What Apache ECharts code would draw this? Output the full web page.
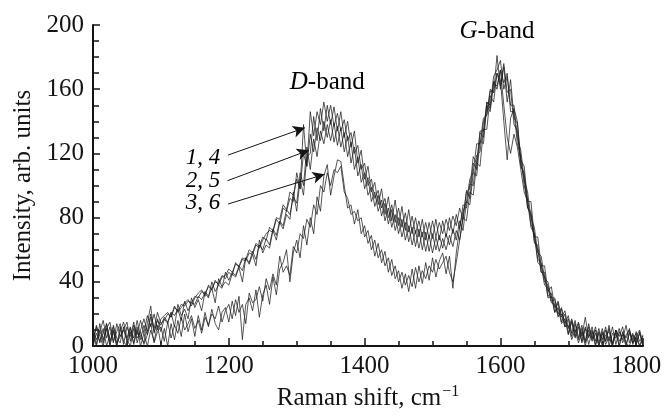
<!DOCTYPE html>
<html>
<head>
<meta charset="utf-8">
<script src="https://cdn.jsdelivr.net/npm/echarts@6/dist/echarts.min.js"></script>
<style>html,body{margin:0;padding:0;background:#fff}#c{width:671px;height:416px}</style>
</head>
<body>
<div id="c"></div>
<script>
// Raman shift grid (cm^-1)
var xs = [1000,1005,1010,1015,1020,1025,1030,1035,1040,1045,1050,1055,1060,1065,1070,1075,1080,1085,1090,1095,
1100,1105,1110,1115,1120,1125,1130,1135,1140,1145,1150,1155,1160,1165,1170,1175,1180,1185,1190,1195,
1200,1205,1210,1215,1220,1225,1230,1235,1240,1245,1250,1255,1260,1265,1270,1275,1280,1285,1290,1295,
1300,1305,1310,1315,1320,1325,1330,1335,1340,1345,1350,1355,1360,1365,1370,1375,1380,1385,1390,1395,
1400,1405,1410,1415,1420,1425,1430,1435,1440,1445,1450,1455,1460,1465,1470,1475,1480,1485,1490,1495,
1500,1505,1510,1515,1520,1525,1530,1535,1540,1545,1550,1555,1560,1565,1570,1575,1580,1585,1590,1595,
1600,1605,1610,1615,1620,1625,1630,1635,1640,1645,1650,1655,1660,1665,1670,1675,1680,1685,1690,1695,
1700,1705,1710,1715,1720,1725,1730,1735,1740,1745,1750,1755,1760,1765,1770,1775,1780,1785,1790,1795,
1800,1805,1810];

// intensities (arb. units), spectra 1..6
var s1 = [10,1,14,4,11,0,13,5,2,12, 3,11,5,16,6,2,14,25,8,17,
9,17,14,21,12,26,19,23,17,30, 24,29,22,34,31,36,27,42,37,40,
38,45,43,49,40,55,51,57,50,66, 58,63,61,72,66,77,73,82,79,96,
84,104,94,118,120,143,128,148,134,150, 138,149,134,146,130,140,124,134,114,122,
104,112,96,102,88,98,82,93,78,91, 75,87,72,85,70,80,68,79,66,77,
67,79,66,78,68,80,70,82,73,88, 86,101,100,119,121,140,144,159,158,181,
160,174,152,166,142,139,116,112,90,90, 68,68,50,50,34,37,24,28,18,22,
11,17,9,15,6,18,5,12,3,11, 2,10,3,12,1,9,4,13,2,8,
1,9,0];
var s2 = [3,12,2,8,14,3,10,0,9,15, 5,12,1,10,4,13,7,18,9,16,
13,18,15,21,19,23,16,28,22,27, 26,31,29,33,30,40,34,38,36,46,
41,46,44,50,47,55,52,59,54,63, 60,67,63,73,69,78,75,85,82,93,
89,108,100,124,110,129,118,134,126,138, 128,139,125,136,121,131,114,124,106,113,
98,105,90,96,84,91,78,86,74,82, 70,79,66,75,63,72,61,71,59,69,
58,68,59,67,60,69,62,72,66,80, 78,96,94,114,112,135,135,156,152,170,
162,176,158,160,138,134,112,108,86,84, 64,63,46,46,31,33,21,27,15,20,
8,16,6,14,3,12,6,10,1,9, 4,12,0,8,5,11,2,7,10,1,
6,10,2];
var s3 = [7,0,10,2,14,1,9,0,12,3, 0,9,2,12,0,8,0,10,3,13,
1,11,0,14,4,16,6,20,9,17, 6,19,10,21,12,23,14,10,21,24,
15,28,19,31,4,26,30,22,35,18, 32,38,26,43,32,48,52,60,40,58,
66,55,75,63,80,70,93,84,106,113, 94,106,116,115,100,86,88,76,85,70,
75,64,69,56,64,52,59,46,54,42, 47,36,45,34,48,36,50,39,52,41,
55,43,53,58,45,56,36,58,74,84, 90,104,108,126,126,142,144,160,158,170,
166,140,116,142,148,140,114,104,86,82, 66,60,46,44,30,31,21,24,14,17,
7,15,5,12,2,11,1,9,0,8, 0,7,9,1,8,0,9,2,0,7,
1,8,0];
var s4 = [2,13,6,0,11,15,3,9,14,1, 12,6,15,2,10,17,9,20,11,21,
14,16,20,18,25,21,24,27,29,25, 30,33,35,31,38,36,40,39,44,42,
46,44,52,49,54,53,58,57,63,61, 66,70,72,71,79,76,86,84,92,90,
108,98,138,112,146,131,146,138,152,140, 150,137,145,134,141,128,133,120,125,110,
114,100,104,92,97,86,92,80,88,77, 86,74,83,71,81,70,78,68,77,67,
78,68,77,70,79,72,81,75,86,79, 97,92,114,110,133,130,152,150,168,172,
178,160,168,150,150,130,122,104,96,80, 74,58,56,42,40,30,30,20,24,14,
19,8,16,5,13,3,14,4,12,2, 11,3,13,0,10,6,12,1,9,4,
8,0,7];
var s5 = [11,4,9,16,5,12,2,14,6,10, 15,3,13,7,16,8,19,12,20,10,
17,19,21,18,24,22,26,25,28,27, 31,30,34,33,37,35,41,38,43,44,
48,46,51,50,55,54,60,58,64,62, 68,66,74,72,80,79,88,85,96,94,
104,98,120,112,132,121,136,128,140,130, 141,127,137,124,133,118,127,110,118,102,
108,94,99,87,94,81,89,76,85,72, 80,68,77,65,74,62,73,60,71,59,
70,60,69,61,70,63,73,66,78,72, 90,88,108,106,128,126,150,146,165,160,
172,164,170,146,146,126,118,100,92,76, 70,54,52,40,38,28,29,18,23,12,
17,6,14,4,11,2,12,5,10,0, 9,3,11,2,10,0,8,5,11,2,
9,3,6];
var s6 = [0,8,3,11,0,7,12,2,6,10, 4,0,11,5,9,1,7,14,2,9,
12,3,15,5,13,8,18,10,14,19, 11,16,8,18,13,20,17,25,15,22,
26,17,29,21,26,14,33,27,29,37, 28,42,35,45,38,56,46,50,44,62,
58,70,67,79,74,88,82,100,96,108, 100,110,108,112,96,92,82,84,78,80,
68,72,60,66,55,60,50,55,44,50, 40,46,38,44,37,49,40,47,42,50,
46,54,48,52,56,46,40,52,66,80, 96,98,118,114,134,134,152,148,164,162,
172,150,130,120,132,124,110,96,90,74, 70,52,50,38,36,27,26,19,20,12,
13,4,10,2,9,0,10,3,8,0, 8,1,6,0,10,3,7,0,8,2,
6,0,4];

// annotations (data coordinates)
var curveLabels = ['{i|1}{n|, }{i|4}', '{i|2}{n|, }{i|5}', '{i|3}{n|, }{i|6}'];
var curveLabelPos = [[1162,117],[1162,103],[1162,89]];
var arrowFrom = [[1199,119],[1198,103],[1199,88.5]];
var arrowTo = [[1312,136],[1318,122],[1341,107]];
var bandLabels = ['{i|D}{n|-band}', '{i|G}{n|-band}'];
var bandPos = [[1345,164],[1595,196]];

function pair(x, y){ var o=[]; for (var i=0;i<x.length;i++) o.push([x[i], y[i]]); return o; }

var FONT = '"Liberation Serif", "Times New Roman", serif';
var TXT = '#141414';
var chart = echarts.init(document.getElementById('c'));
var lineCol = '#1e1e1e';
function ser(x, y){ return {type:'line', data: pair(x, y), showSymbol:false, symbol:'none',
  lineStyle:{color:lineCol, width:0.75}, itemStyle:{color:lineCol}, z:2}; }

var series = [ser(xs,s1), ser(xs,s2), ser(xs,s3), ser(xs,s4), ser(xs,s5), ser(xs,s6)];
series[0].markLine = {
  silent:true, symbol:['none','arrow'], symbolSize:[9,12],
  lineStyle:{color:TXT, width:1, type:'solid'}, label:{show:false},
  data: arrowFrom.map(function(f,i){ return [{coord:f},{coord:arrowTo[i]}]; })
};

var richCurve = {
  i:{fontFamily:FONT, fontStyle:'italic', fontSize:23, color:TXT},
  n:{fontFamily:FONT, fontSize:23, color:TXT}
};
var richBand = {
  i:{fontFamily:FONT, fontStyle:'italic', fontSize:25, color:TXT},
  n:{fontFamily:FONT, fontSize:25, color:TXT}
};
function plain(v){ return String(v); }

chart.setOption({
  animation:false,
  backgroundColor:'#fff',
  grid:{left:93, right:28, top:25, bottom:68, containLabel:false},
  xAxis:{type:'value', min:1000, max:1810, interval:200,
    name:'{n|Raman shift, cm}{s|−1}', nameLocation:'middle', nameGap:35,
    nameTextStyle:{rich:{n:{fontFamily:FONT, fontSize:25, color:TXT}, s:{fontFamily:FONT, fontSize:16, color:TXT, padding:[0,0,13,1]}}},
    axisLine:{lineStyle:{color:TXT, width:2}},
    axisTick:{inside:true, length:8, lineStyle:{color:TXT, width:1.5}},
    minorTick:{show:true, splitNumber:4, length:5, lineStyle:{color:TXT, width:1.5}},
    axisLabel:{fontFamily:FONT, fontSize:25, color:TXT, margin:8, formatter:plain},
    splitLine:{show:false}
  },
  yAxis:{type:'value', min:0, max:200, interval:40,
    name:'Intensity, arb. units', nameLocation:'middle', nameGap:56,
    nameTextStyle:{fontFamily:FONT, fontSize:25, color:TXT},
    axisLine:{show:true, lineStyle:{color:TXT, width:2}},
    axisTick:{show:true, inside:true, length:7, lineStyle:{color:TXT, width:1.5}},
    minorTick:{show:true, splitNumber:4, length:6, lineStyle:{color:TXT, width:1.5}},
    axisLabel:{fontFamily:FONT, fontSize:25, color:TXT, margin:9, formatter:plain},
    splitLine:{show:false}
  },
  series: series
});

var g = [];
curveLabels.forEach(function(t,i){
  var p = chart.convertToPixel({gridIndex:0}, curveLabelPos[i]);
  g.push({type:'text', x:p[0], y:p[1], style:{text:t, rich:richCurve, align:'center', verticalAlign:'middle'}});
});
bandLabels.forEach(function(t,i){
  var p = chart.convertToPixel({gridIndex:0}, bandPos[i]);
  g.push({type:'text', x:p[0], y:p[1], style:{text:t, rich:richBand, align:'center', verticalAlign:'middle'}});
});
chart.setOption({graphic:g});
</script>
</body>
</html>
